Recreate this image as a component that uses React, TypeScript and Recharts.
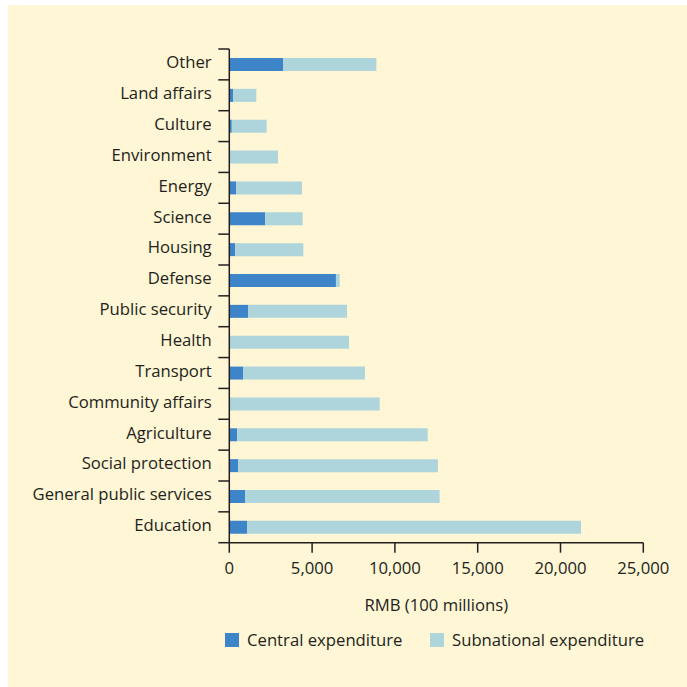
import React from 'react';
import { BarChart, Bar, XAxis, YAxis } from 'recharts';

const categories = [
  'Other', 'Land affairs', 'Culture', 'Environment', 'Energy', 'Science', 'Housing', 'Defense',
  'Public security', 'Health', 'Transport', 'Community affairs', 'Agriculture', 'Social protection',
  'General public services', 'Education',
];
const central = [3260, 240, 150, 0, 420, 2170, 360, 6440, 1150, 0, 830, 0, 470, 540, 950, 1070];
const subnational = [5620, 1390, 2110, 2940, 3970, 2260, 4110, 230, 5960, 7230, 7360, 9080, 11510, 12060, 11750, 20170];
const xTicks = [0, 5000, 10000, 15000, 20000, 25000];
const seriesNames = ['Central expenditure', 'Subnational expenditure'];
const seriesColors = ['#3d85c8', '#aed4dc'];
const axisLabel = 'RMB (100 millions)';

const data = categories.map((c, i) => ({ name: c, central: central[i], subnational: subnational[i] }));

const FONT = '"Open Sans", sans-serif';
const FS = 16.7;
const INK = '#231f20';
const BG = '#fef6d4';
const W = 679;
const H = 682;
const M_TOP = 44;
const PLOT_BOTTOM = 537.7;
const BAND = (PLOT_BOTTOM - M_TOP) / categories.length;
const TICK = 9;
const TICK_MARGIN = 8.6;

const YTick = (props: any) => {
  const { x, y, payload, index } = props;
  const ax = x + TICK_MARGIN + TICK;
  const top = y - BAND / 2;
  const bot = y + BAND / 2;
  return (
    <g>
      <line x1={ax - TICK - 2} x2={ax} y1={top} y2={top} stroke={INK} strokeWidth={1.5} />
      {index === categories.length - 1 && (
        <line x1={ax - TICK - 2} x2={ax} y1={bot} y2={bot} stroke={INK} strokeWidth={1.5} />
      )}
      <text x={x} y={y - 2} dy="0.35em" textAnchor="end" fill={INK} fontSize={FS} fontFamily={FONT}>
        {payload.value}
      </text>
    </g>
  );
};

export default function App() {
  return (
    <div style={{ position: 'absolute', left: 8, top: 5, width: W, height: H, background: BG }}>
      <BarChart
        width={W}
        height={H}
        data={data}
        layout="vertical"
        margin={{ top: M_TOP, right: 43.7, left: 0, bottom: H - PLOT_BOTTOM - 70 }}
        barSize={13}
      >
        <XAxis
          type="number"
          domain={[0, 25000]}
          ticks={xTicks}
          tickFormatter={(v: number) => v.toLocaleString('en-US')}
          height={70}
          tickSize={10}
          tickMargin={9}
          axisLine={{ stroke: INK, strokeWidth: 1.5 }}
          tickLine={{ stroke: INK, strokeWidth: 1.5 }}
          tick={{ fill: INK, fontSize: FS, fontFamily: FONT }}
          interval={0}
          label={{ value: axisLabel, position: 'insideBottom', offset: 2, fill: INK, fontSize: FS, fontFamily: FONT }}
        />
        <YAxis
          type="category"
          dataKey="name"
          width={221.3}
          tickSize={TICK}
          tickMargin={TICK_MARGIN}
          tickLine={false}
          axisLine={{ stroke: INK, strokeWidth: 1.5 }}
          tick={<YTick />}
          interval={0}
        />
        <Bar dataKey="central" stackId="a" fill={seriesColors[0]} isAnimationActive={false} name={seriesNames[0]} />
        <Bar dataKey="subnational" stackId="a" fill={seriesColors[1]} isAnimationActive={false} name={seriesNames[1]} />
      </BarChart>
      {seriesNames.map((n, i) => (
        <div
          key={n}
          style={{
            position: 'absolute',
            left: i === 0 ? 217 : 422,
            top: 623,
            display: 'flex',
            alignItems: 'center',
            fontFamily: FONT,
            fontSize: FS,
            color: INK,
            whiteSpace: 'nowrap',
          }}
        >
          <span style={{ display: 'inline-block', width: 14, height: 14, background: seriesColors[i], marginRight: 8 }} />
          {n}
        </div>
      ))}
    </div>
  );
}
